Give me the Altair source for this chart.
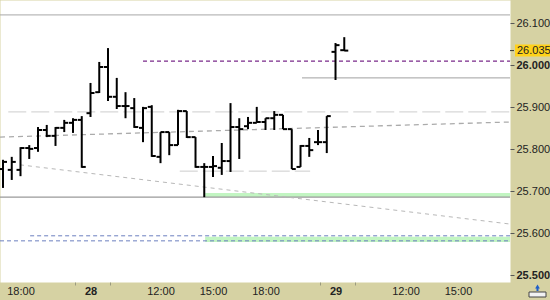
import altair as alt
import pandas as pd

# ---- OHLC bars (30-minute bars, index positions on a compressed time axis) ----
bar_idx = list(range(40))
opens = [25.753, 25.751, 25.751, 25.803, 25.803, 25.846, 25.832, 25.851, 25.863, 25.870,
         25.886, 25.936, 25.996, 25.925, 25.903, 25.898, 25.851, 25.901, 25.782, 25.841,
         25.810, 25.891, 25.829, 25.758, 25.758, 25.756, 25.772, 25.853, 25.855, 25.863,
         25.865, 25.874, 25.882, 25.848, 25.758, 25.808, 25.817, 25.817, 26.032, 26.036]
highs = [25.775, 25.782, 25.805, 25.810, 25.853, 25.858, 25.853, 25.870, 25.874, 25.879,
         25.958, 26.008, 26.041, 25.970, 25.936, 25.922, 25.901, 25.905, 25.841, 25.841,
         25.894, 25.891, 25.829, 25.767, 25.784, 25.815, 25.910, 25.874, 25.877, 25.901,
         25.874, 25.891, 25.882, 25.848, 25.810, 25.827, 25.846, 25.879, 26.053, 26.067]
lows = [25.708, 25.727, 25.736, 25.777, 25.794, 25.829, 25.808, 25.841, 25.839, 25.756,
        25.877, 25.934, 25.915, 25.896, 25.874, 25.851, 25.817, 25.782, 25.767, 25.786,
        25.810, 25.827, 25.756, 25.686, 25.734, 25.739, 25.746, 25.777, 25.848, 25.863,
        25.846, 25.846, 25.848, 25.753, 25.758, 25.782, 25.810, 25.791, 25.965, 26.034]
closes = [25.770, 25.770, 25.803, 25.801, 25.846, 25.832, 25.851, 25.863, 25.870, 25.758,
          25.934, 25.996, 25.925, 25.903, 25.903, 25.853, 25.898, 25.784, 25.841, 25.810,
          25.891, 25.829, 25.758, 25.758, 25.760, 25.772, 25.853, 25.848, 25.863, 25.865,
          25.874, 25.882, 25.848, 25.753, 25.808, 25.798, 25.817, 25.879, 26.048, 26.035]

# ---- axis labels ----
x_label_pos = [2, 10, 18, 24, 30, 38, 46, 52]
x_label_txt = ["18:00", "28", "12:00", "15:00", "18:00", "29", "12:00", "15:00"]
x_day_pos = [10, 38]
x_minor_ticks = [8.2, 12.2, 36.2, 40.2]
y_ticks = [25.5, 25.6, 25.7, 25.8, 25.9, 26.0, 26.1]
last_price = 26.035
last_price_text = "26.035"

X_MIN, X_MAX = -0.343, 57.94
Y_MIN, Y_MAX = 25.484, 26.1555

# ---- reference lines: x1, x2 (bar index), y1, y2 (price) ----
line_x1 = [X_MIN, X_MIN, 34.17, 16.0, 0.6, 20.2, X_MIN, 1.94, 3.1, X_MIN]
line_x2 = [X_MAX, X_MAX, X_MAX, X_MAX, X_MAX, 35.1, X_MAX, X_MAX, X_MAX, X_MAX]
line_y1 = [26.120, 25.686, 25.970, 26.010, 25.889, 25.748, 25.829, 25.763, 25.594, 25.582]
line_y2 = [26.120, 25.686, 25.970, 26.010, 25.889, 25.748, 25.865, 25.622, 25.594, 25.582]
line_color = ["#a8a8a8", "#9a9a9a", "#a0a0a0", "#7a2a8a", "#cdcdcd", "#cdcdcd",
              "#ababab", "#b8b8b8", "#6b7fbf", "#6b7fbf"]
line_dash = [[1, 0], [1, 0], [1, 0], [4, 3], [18, 5], [18, 5], [5, 4], [4, 4], [4, 3], [4, 3]]
line_width = [1, 1.3, 1, 1.2, 1, 1, 1.3, 1, 1, 1]

# ---- green zones ----
zone_x1 = [23.1, 23.1]
zone_y1 = [25.6864, 25.579]
zone_y2 = [25.696, 25.592]

xs = alt.Scale(domain=[X_MIN, X_MAX], nice=False, zero=False)
ys = alt.Scale(domain=[Y_MIN, Y_MAX], nice=False, zero=False)

bars = pd.DataFrame(dict(i=bar_idx, o=opens, h=highs, l=lows, c=closes))

label_map = "{" + ",".join(f"'{p}':'{t}'" for p, t in zip(x_label_pos, x_label_txt)) + "}"
minor_arr = "[" + ",".join(str(v) for v in x_minor_ticks) + "]"
day_cond = " || ".join(f"datum.value == {d}" for d in x_day_pos)

x_axis = alt.Axis(
    values=x_label_pos + x_minor_ticks,
    labelExpr=f"{label_map}[toString(datum.value)] || ''",
    grid=False, domain=False,
    tickSize=3, tickColor="#9a9a80",
    tickOpacity={"expr": f"indexof({minor_arr}, datum.value) >= 0 ? 1 : 0"},
    labelPadding=0, labelFont="Liberation Sans", labelFontSize=11,
    labelColor="#222222", labelFlush=False, labelOverlap=False,
    labelFontWeight={"expr": f"({day_cond}) ? 'bold' : 'normal'"},
    title=None,
)
y_axis = alt.Axis(
    orient="right", values=y_ticks, format=".3f", grid=False, domain=False,
    tickSize=4, tickColor="#555555", labelPadding=2,
    labelFont="Liberation Sans", labelFontSize=11, labelColor="#222222",
    labelFontWeight={"expr": "(abs(datum.value - 26) < 0.001 || abs(datum.value - 25.5) < 0.001) ? 'bold' : 'normal'"},
    labelOverlap=False,
    title=None,
)


def X(f):
    return alt.X(f, scale=xs, axis=x_axis)


def Y(f):
    return alt.Y(f, scale=ys, axis=y_axis)


layers = []

# green zones
zones = pd.DataFrame(dict(x1=zone_x1, x2=[X_MAX] * len(zone_x1), y1=zone_y1, y2=zone_y2))
layers.append(
    alt.Chart(zones).mark_rect(color="#c2f5c2").encode(
        x=X("x1:Q"), x2="x2:Q", y=Y("y1:Q"), y2="y2:Q",
    )
)

# reference lines
for k in range(len(line_x1)):
    d = pd.DataFrame(dict(x1=[line_x1[k]], x2=[line_x2[k]], y1=[line_y1[k]], y2=[line_y2[k]]))
    layers.append(
        alt.Chart(d).mark_rule(color=line_color[k], strokeDash=line_dash[k],
                               strokeWidth=line_width[k]).encode(
            x=X("x1:Q"), x2="x2:Q", y=Y("y1:Q"), y2="y2:Q",
        )
    )

# OHLC bars
base = alt.Chart(bars)
layers.append(
    base.mark_rule(color="black", strokeWidth=2).encode(
        x=X("i:Q"), y=Y("l:Q"), y2="h:Q",
    )
)
layers.append(
    base.mark_rule(color="black", strokeWidth=2, xOffset=-4).encode(
        x=X("i:Q"), x2="i:Q", y=Y("o:Q"),
    )
)
layers.append(
    base.mark_rule(color="black", strokeWidth=2, x2Offset=4).encode(
        x=X("i:Q"), x2="i:Q", y=Y("c:Q"),
    )
)

# last price marker on the right axis
lp = pd.DataFrame(dict(p=[last_price], t=[last_price_text]))
lpc = alt.Chart(lp)
layers.append(
    lpc.mark_rule(color="#ffd21a", strokeWidth=12, strokeCap="butt").encode(
        x=alt.value(515), x2=alt.value(550), y=Y("p:Q"),
    )
)
layers.append(
    lpc.mark_rule(color="#333333", strokeWidth=1).encode(
        x=alt.value(510), x2=alt.value(514), y=Y("p:Q"),
    )
)
layers.append(
    lpc.mark_text(align="left", baseline="middle", font="Liberation Sans", fontSize=11,
                  color="#222222").encode(
        x=alt.value(517), y=Y("p:Q"), text="t:N",
    )
)

# small scroll icon in the corner
icon = pd.DataFrame(dict(a=[0]))
ic = alt.Chart(icon)
layers.append(
    ic.mark_rect(fill="#f2f2f2", stroke="#444444", strokeWidth=1).encode(
        x=alt.value(529), x2=alt.value(546), y=alt.value(292), y2=alt.value(297)
    )
)
layers.append(
    ic.mark_point(shape="triangle-up", filled=True, color="#1f5fc8", size=22, opacity=1).encode(
        x=alt.value(537.5), y=alt.value(286.5)
    )
)
layers.append(
    ic.mark_rule(color="#1f5fc8", strokeWidth=2).encode(
        x=alt.value(537.5), y=alt.value(287), y2=alt.value(291)
    )
)

chart = alt.layer(*layers).properties(
    width=510, height=282,
    padding={"left": 0, "top": 0, "right": 40, "bottom": 18},
    autosize=alt.AutoSizeParams(type="none"),
    background="#d6d2a3",
).configure_view(fill="white", stroke="transparent")

chart.save("out.html", embed_options={"renderer": "svg", "actions": False})
